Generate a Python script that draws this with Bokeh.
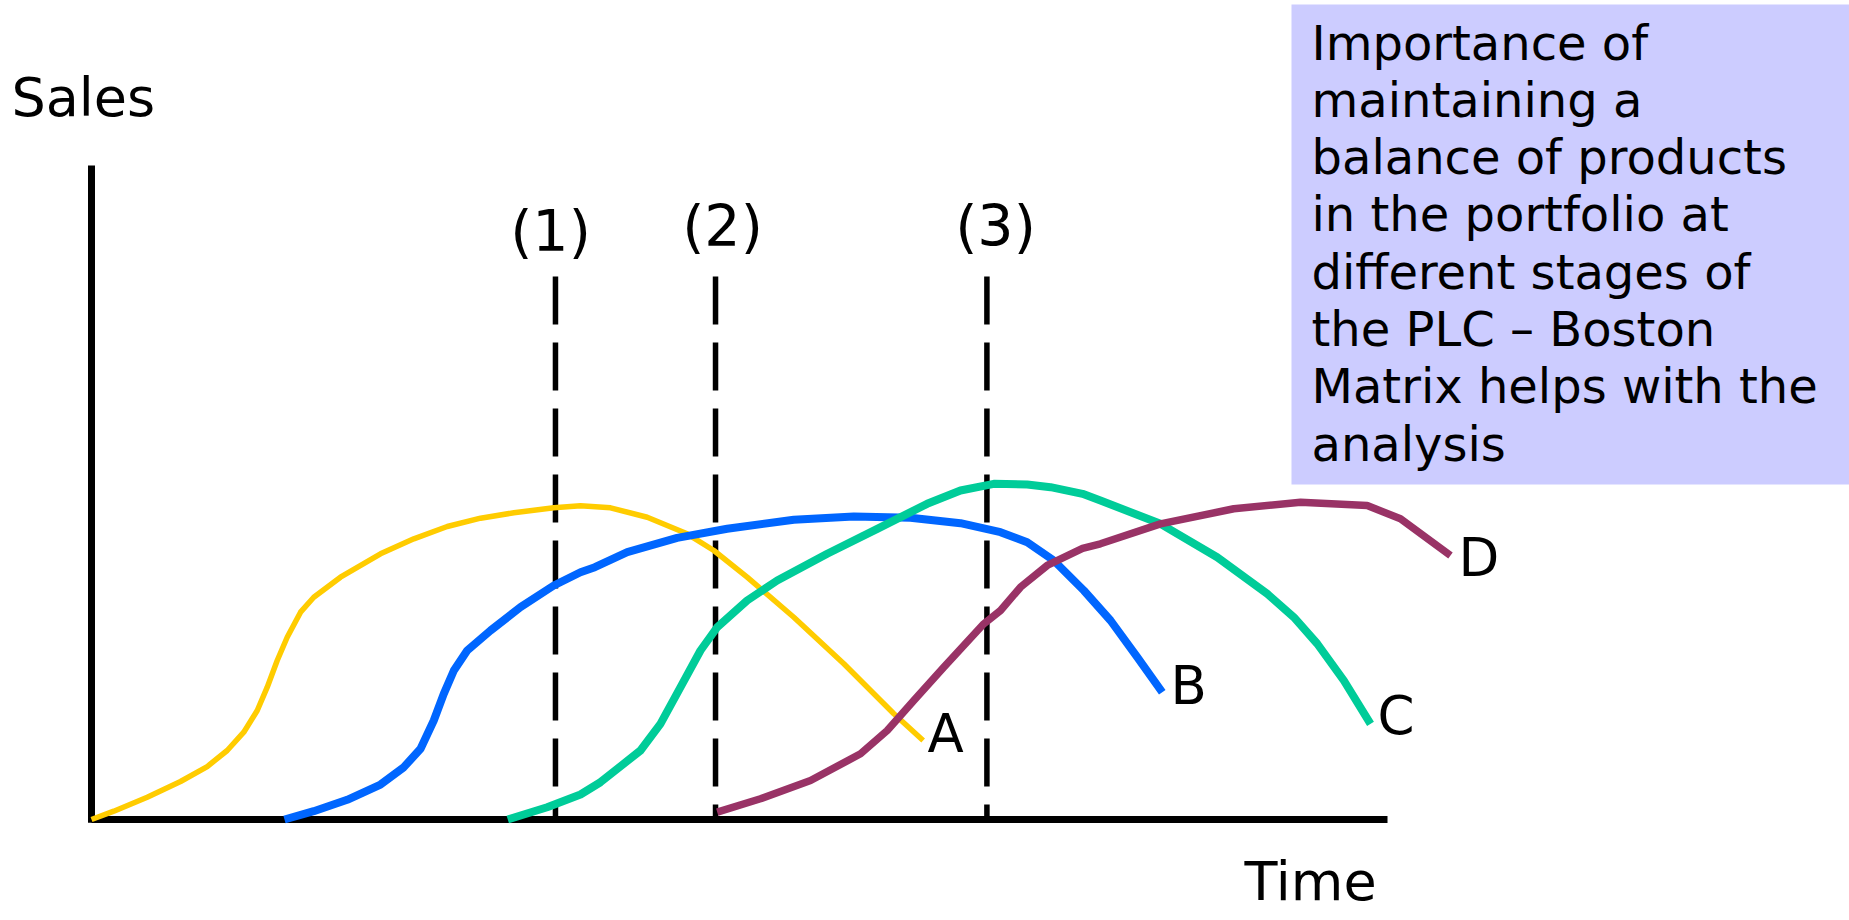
from bokeh.plotting import figure
from bokeh.models import Range1d
from bokeh.core.properties import value
from bokeh.embed import file_html
from bokeh.resources import INLINE

# ---------------- data (time units 0-100 along the axis, sales units 0-100 up the axis)
product_names = ["A", "B", "C", "D"]
product_colors = ["#FFCC00", "#0066FF", "#00CC99", "#993366"]
product_widths = [5.5, 8, 8, 7.5]

a_time = [0, 1.72, 4.30, 6.87, 8.93, 10.47, 11.75, 12.79, 13.56, 14.33, 15.10, 16.13,
          17.15, 19.21, 22.30, 24.87, 27.45, 30.02, 32.59, 35.67, 37.73, 40.05, 42.88,
          45.96, 48.02, 50.59, 54.19, 58.05, 61.91, 64.17]
a_sales = [0, 1.27, 3.41, 5.81, 8.10, 10.55, 13.35, 16.67, 20.23, 24.31, 27.87, 31.70,
           33.99, 37.05, 40.63, 42.92, 44.80, 46.07, 46.90, 47.66, 47.97, 47.66, 46.22,
           43.68, 41.13, 37.05, 30.93, 23.81, 16.16, 12.08]

b_time = [14.89, 17.15, 19.73, 22.30, 24.10, 25.39, 26.41, 27.18, 27.96, 28.99, 30.79,
          33.10, 35.67, 37.73, 38.84, 41.34, 45.19, 49.05, 54.19, 58.82, 63.19, 67.05,
          70.14, 72.20, 74.25, 76.57, 78.63, 80.69, 82.62]
b_sales = [0, 1.27, 3.01, 5.35, 8.00, 10.81, 15.14, 19.22, 22.78, 25.84, 28.90,
           32.46, 35.78, 37.81, 38.58, 40.87, 43.07, 44.45, 45.83, 46.33, 46.13, 45.31,
           43.93, 42.40, 39.60, 35.02, 30.43, 24.82, 19.46]

c_time = [32.12, 35.16, 37.73, 39.27, 42.36, 43.90, 45.45, 46.99, 48.28, 50.59, 52.91,
          56.77, 60.63, 64.48, 67.05, 69.62, 72.20, 74.00, 76.47, 77.85, 82.48, 86.86,
          90.72, 92.77, 94.58, 96.63, 98.69]
c_sales = [0, 1.88, 3.82, 5.70, 10.55, 14.63, 20.23, 25.84, 29.40, 33.49, 36.54,
           40.63, 44.45, 48.27, 50.31, 51.33, 51.22, 50.81, 49.80, 48.78, 45.21, 40.11,
           34.51, 30.93, 26.87, 21.25, 14.63]

d_time = [48.28, 51.62, 55.48, 59.34, 61.40, 63.45, 65.76, 68.85, 70.14, 71.68, 73.74,
          76.47, 77.85, 82.48, 88.14, 93.29, 98.43, 101.0, 104.86]
d_sales = [1.12, 3.17, 5.96, 10.05, 13.61, 18.20, 23.29, 29.92, 31.96, 35.52, 38.84,
           41.44, 42.16, 45.21, 47.51, 48.52, 48.01, 45.98, 40.37]

stage_labels = ["(1)", "(2)", "(3)"]
stage_time = [35.80, 48.15, 69.09]

axis_max_time = 100
axis_max_sales = 100

box_lines = [
    "Importance of",
    "maintaining a",
    "balance of products",
    "in the portfolio at",
    "different stages of",
    "the PLC \u2013 Boston",
    "Matrix helps with the",
    "analysis",
]

# ---------------- layout helpers (picture pixel -> data)
W, H = 1849, 920
X0, Y0 = 91.0, 819.0
PX_T, PX_S = 12.96, 6.54
TXT_SHIFT = 20.0  # rendered alphabetic baseline sits this much lower


def tx(X):
    return (X - X0) / PX_T


def sy(Y):
    return (Y0 - Y) / PX_S


def ty(Y):
    return sy(Y - TXT_SHIFT)


FONT = value("DejaVu Sans")

p = figure(width=W, height=H, output_backend="svg", toolbar_location=None,
           x_range=Range1d(tx(0), tx(W)), y_range=Range1d(sy(H), sy(0)),
           min_border=0, x_axis_location=None, y_axis_location=None)
p.grid.visible = False
p.outline_line_color = None
p.background_fill_color = "white"
p.border_fill_color = "white"

# text box
p.quad(left=[tx(1291)], right=[tx(W + 20)], top=[sy(4)], bottom=[sy(484)],
       fill_color="#CCCCFF", line_color=None)
p.text(x=[tx(1311)] * len(box_lines),
       y=[ty(62 + 57.3 * i) for i in range(len(box_lines))],
       text=box_lines, text_font=FONT, text_font_size="48px", text_color="black",
       text_align="left", text_baseline="alphabetic")

# axes
p.segment(x0=[0], y0=[0], x1=[axis_max_time], y1=[0], line_color="black", line_width=7)
p.segment(x0=[0], y0=[-0.5], x1=[0], y1=[axis_max_sales], line_color="black", line_width=7)

# stage dashed lines
p.segment(x0=stage_time, y0=[sy(276)] * 3, x1=stage_time, y1=[0] * 3,
          line_color="black", line_width=5.5, line_dash="48 18")
p.text(x=[tx(550), tx(722), tx(995)], y=[ty(250), ty(245), ty(245)], text=stage_labels,
       text_font=FONT, text_font_size="57px", text_color="black",
       text_align="center", text_baseline="alphabetic")

# product curves
series = [(a_time, a_sales), (b_time, b_sales), (c_time, c_sales), (d_time, d_sales)]
for (t, s), col, w in zip(series, product_colors, product_widths):
    p.line(t, s, line_color=col, line_width=w, line_join="round", line_cap="butt")

# curve labels
label_x = [tx(927), tx(1170), tx(1377), tx(1458)]
label_y = [ty(753), ty(705), ty(735), ty(577)]
p.text(x=label_x, y=label_y, text=product_names, text_font=FONT, text_font_size="53px",
       text_color="black", text_align="left", text_baseline="alphabetic")

# axis titles
p.text(x=[tx(11)], y=[ty(117)], text=["Sales"], text_font=FONT, text_font_size="54px",
       text_color="black", text_align="left", text_baseline="alphabetic")
p.text(x=[tx(1244)], y=[ty(901)], text=["Time"], text_font=FONT, text_font_size="54px",
       text_color="black", text_align="left", text_baseline="alphabetic")

open("out.html", "w").write(file_html(p, INLINE))
